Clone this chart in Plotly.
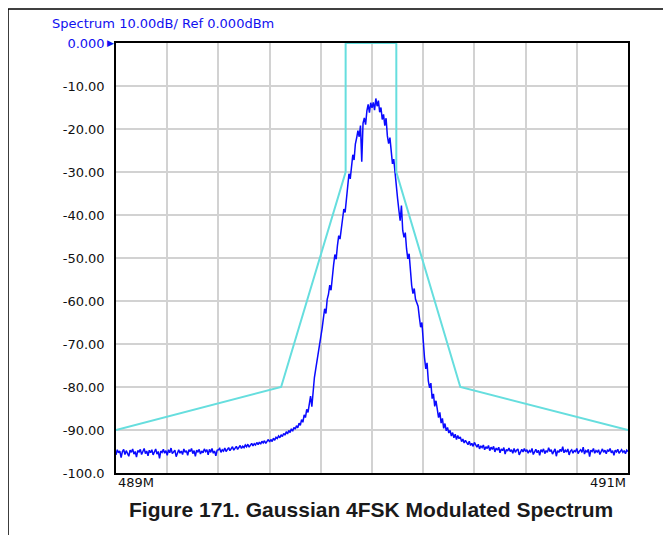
import plotly.graph_objects as go

# sweep settings (MHz) and trace levels (dBm)
f_start = 489.0
f_stop = 491.0
level_dbm = [
    # 489.000 - 489.400
    -95.8, -94.6, -95.3, -94.9, -96.4, -95.0, -94.5, -95.7, -94.8, -95.4,
    -96.1, -94.7, -95.2, -94.4, -95.6, -95.0, -96.3, -94.8, -95.1, -94.5,
    -95.7, -95.0, -94.3, -95.5, -94.9, -96.0, -94.7, -95.3, -94.6, -95.8,
    -95.1, -94.4, -95.6, -95.0, -96.6, -94.9, -95.2, -94.5, -95.4, -94.8,
    -95.9, -94.6, -95.3, -94.2, -95.5, -95.0, -94.7, -96.2, -95.1, -94.6,
    -95.4, -94.9, -95.7, -94.4, -95.2, -94.8, -95.9, -94.6, -95.0, -94.3,
    -95.5, -94.8, -96.1, -94.7, -95.1, -94.5, -95.6, -94.9, -95.3, -94.4,
    -95.0, -94.6, -95.8, -94.5, -95.2, -94.3, -95.4, -94.9, -96.0, -94.7,
    -94.6,
    # 489.405 - 489.600
    -94.3, -95.2, -94.6, -94.9, -94.2, -95.0, -94.5, -94.1, -94.8, -94.3,
    -93.9, -94.7, -94.2, -93.8, -94.5, -94.0, -93.6, -94.3, -93.8, -94.1,
    -93.5, -93.9, -93.3, -94.0, -93.6, -93.1, -93.7, -93.2, -93.5, -92.9,
    -93.4, -92.8, -93.3, -92.6, -93.0, -92.5, -93.1, -92.6, -92.2, -92.8,
    # 489.605 - 489.700
    -92.2, -92.7, -91.9, -92.4, -91.7, -92.0, -91.4, -91.8, -91.1, -91.5,
    -90.8, -91.2, -90.4, -90.9, -90.1, -90.6, -89.7, -90.3, -89.4, -89.8,
    # 489.705 - 489.800
    -89.0, -89.5, -88.4, -88.9, -87.6, -88.2, -86.5, -87.1, -85.2, -85.9,
    -83.6, -82.1, -84.6, -80.4, -77.8, -75.9, -74.2, -72.0, -70.6, -68.3,
    # 489.805 - 489.900
    -66.4, -64.1, -61.8, -62.9, -59.6, -58.4, -56.3, -57.5, -53.8, -51.6,
    -49.2, -50.3, -47.1, -44.8, -45.6, -42.7, -40.9, -38.6, -39.4, -35.7,
    # 489.905 - 490.000
    -33.2, -30.4, -31.6, -28.1, -26.0, -27.2, -23.5, -22.1, -20.4, -21.8,
    -19.2, -27.6, -18.6, -17.4, -19.0, -15.8, -14.3, -16.2, -13.9, -15.1,
    # 490.005 - 490.100
    -13.8, -15.6, -12.9, -14.7, -13.4, -16.1, -15.0, -17.8, -16.6, -19.2,
    -17.5, -21.6, -23.4, -22.0, -25.8, -28.1, -27.0, -30.6, -33.9, -36.2,
    # 490.105 - 490.200
    -38.9, -41.3, -37.8, -43.6, -45.2, -44.1, -47.9, -50.2, -49.0, -53.6,
    -56.4, -58.3, -57.1, -59.6, -60.4, -61.2, -63.8, -66.1, -65.0, -70.2,
    # 490.205 - 490.300
    -73.1, -75.8, -74.4, -78.6, -80.2, -79.1, -82.7, -81.6, -84.5, -83.2,
    -85.8, -87.1, -85.9, -88.4, -87.3, -89.6, -88.5, -90.2, -89.4, -90.7,
    # 490.305 - 490.600
    -90.1, -91.4, -90.6, -91.8, -91.0, -92.2, -91.3, -92.0, -91.6, -92.7,
    -92.1, -93.0, -92.4, -92.9, -93.4, -92.6, -93.6, -93.1, -93.8, -92.9,
    -93.5, -94.0, -93.3, -94.4, -93.7, -94.1, -93.5, -94.6, -93.9, -94.3,
    -93.6, -94.8, -94.0, -94.5, -93.8, -95.1, -94.2, -94.7, -94.0, -95.3,
    -94.4, -94.8, -94.1, -95.6, -94.5, -94.9, -94.2, -95.0, -94.6, -95.4,
    -94.3, -95.2, -94.7, -94.4, -95.8, -94.9, -94.5, -95.1, -94.3, -95.0,
    # 490.605 - 491.000
    -94.6, -95.4, -94.8, -95.1, -94.3, -95.7, -94.9, -94.5, -95.3, -94.7,
    -95.9, -94.6, -95.0, -94.4, -95.5, -94.8, -95.2, -94.1, -95.0, -94.6,
    -95.6, -94.9, -94.4, -96.1, -94.8, -95.2, -94.5, -95.0, -93.9, -95.3,
    -94.7, -95.1, -94.4, -95.8, -94.9, -94.6, -95.4, -94.8, -95.0, -94.3,
    -95.5, -94.9, -94.6, -95.2, -94.0, -95.6, -94.8, -95.1, -94.5, -96.2,
    -94.7, -95.0, -94.3, -95.4, -94.8, -95.1, -94.6, -95.7, -94.9, -94.4,
    -95.2, -94.7, -95.5, -94.6, -95.0, -94.3, -95.3, -94.8, -95.9, -94.7,
    -95.1, -94.5, -95.4, -94.9, -94.6, -95.2, -94.8, -95.5, -94.7, -95.0,
]

# spectrum mask corners
mask_freq = [489.0, 489.645, 489.897, 489.897, 490.095, 490.095, 490.345, 491.0]
mask_dbm = [-90, -80, -30, 0, 0, -30, -80, -90]

y_ticks = [-100, -90, -80, -70, -60, -50, -40, -30, -20, -10, 0]
y_labels = ["-100.0", "-90.00", "-80.00", "-70.00", "-60.00", "-50.00",
            "-40.00", "-30.00", "-20.00", "-10.00",
            "<span style='color:#1010f0'>0.000</span>"]
x_grid = [489.0 + 0.2 * k for k in range(11)]

step = (f_stop - f_start) / (len(level_dbm) - 1)
freq = [f_start + i * step for i in range(len(level_dbm))]

fig = go.Figure()
fig.add_trace(go.Scatter(x=freq, y=level_dbm, mode="lines",
                         line=dict(color="#0a0aff", width=1.5)))
fig.add_trace(go.Scatter(x=mask_freq, y=mask_dbm, mode="lines",
                         line=dict(color="#66dede", width=2)))

# page body adds 8px, so the figure is 8px smaller than the window
fig.update_layout(
    width=663, height=527,
    margin=dict(l=108, r=43, t=35, b=62),
    paper_bgcolor="white", plot_bgcolor="white",
    showlegend=False,
    font=dict(family="DejaVu Sans", size=13, color="#111111"),
)
fig.update_xaxes(range=[f_start, f_stop], tickvals=x_grid, showticklabels=False,
                 showgrid=True, gridcolor="#d2d2d2", gridwidth=1.6,
                 showline=True, mirror=True, linecolor="black", linewidth=1.5,
                 zeroline=False, ticks="", layer="below traces")
fig.update_yaxes(range=[-100, 0], tickvals=y_ticks, ticktext=y_labels,
                 showgrid=True, gridcolor="#d2d2d2", gridwidth=1.6,
                 showline=True, mirror=True, linecolor="black", linewidth=1.5,
                 zeroline=False, ticks="", ticklabelstandoff=7,
                 layer="below traces")

# header, marker and frequency labels
fig.add_annotation(text="Spectrum 10.00dB/ Ref 0.000dBm", xref="paper", yref="paper",
                   x=-0.1289, y=1.0465, xanchor="left", yanchor="middle",
                   showarrow=False, font=dict(color="#1010f0", size=13))
fig.add_annotation(text="▶", xref="paper", yref="y", x=0, y=0,
                   xanchor="right", yanchor="middle", xshift=0,
                   showarrow=False, font=dict(color="#1010f0", size=9))
fig.add_annotation(text="489M", xref="paper", yref="paper", x=0, y=-0.021,
                   xanchor="left", yanchor="middle", showarrow=False)
fig.add_annotation(text="491M", xref="paper", yref="paper", x=1, y=-0.021,
                   xanchor="right", yanchor="middle", showarrow=False)
fig.add_annotation(text="Figure 171. Gaussian 4FSK Modulated Spectrum",
                   xref="paper", yref="paper", x=0.498, y=-0.086,
                   xanchor="center", yanchor="middle", showarrow=False,
                   font=dict(family="Liberation Sans", size=21, weight="bold",
                             color="#1a1a1a"))

# page frame (top and left edges)
fig.add_shape(type="line", xref="paper", yref="paper",
              x0=-0.2109, y0=1.0791, x1=1.11, y1=1.0791,
              line=dict(color="black", width=1.5))
fig.add_shape(type="line", xref="paper", yref="paper",
              x0=-0.2109, y0=1.0791, x1=-0.2109, y1=-0.16,
              line=dict(color="black", width=1.5))

fig.write_html("out.html")
